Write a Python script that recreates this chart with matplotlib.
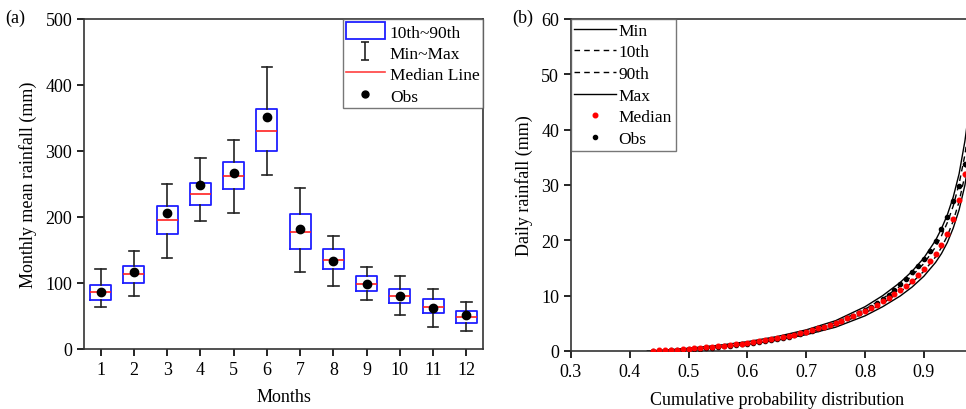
import matplotlib
matplotlib.use("Agg")
import matplotlib.pyplot as plt
from matplotlib.patches import Rectangle
from matplotlib.lines import Line2D
from matplotlib.path import Path

plt.rcParams['font.family'] = ['Liberation Serif', 'DejaVu Serif']
plt.rcParams['font.size'] = 13

# ---------------- Panel (a) data ----------------
months = [1, 2, 3, 4, 5, 6, 7, 8, 9, 10, 11, 12]
month_min = [64, 81, 138, 194, 206, 264, 117, 95, 75, 51, 34, 28]
month_p10 = [75, 100, 174, 218, 242, 300, 152, 121, 88, 69, 54, 40]
month_med = [86, 113, 195, 235, 262, 330, 177, 135, 99, 80, 64, 48]
month_p90 = [97, 126, 217, 252, 283, 363, 204, 152, 110, 91, 76, 57]
month_max = [121, 148, 250, 289, 316, 427, 244, 171, 124, 110, 91, 71]
month_obs = [87, 117, 206, 248, 266, 351, 182, 133, 98, 80, 62, 51]

# ---------------- Panel (b) data ----------------
cdf_pts = [0.44, 0.45, 0.46, 0.47, 0.48, 0.49, 0.50, 0.51, 0.52, 0.53,
           0.54, 0.55, 0.56, 0.57, 0.58, 0.59, 0.60, 0.61, 0.62, 0.63,
           0.64, 0.65, 0.66, 0.67, 0.68, 0.69, 0.70, 0.71, 0.72, 0.73,
           0.74, 0.75, 0.76, 0.77, 0.78, 0.79, 0.80, 0.81, 0.82, 0.83,
           0.84, 0.85, 0.86, 0.87, 0.88, 0.89, 0.90, 0.91, 0.92, 0.93,
           0.94, 0.95, 0.96, 0.97]
median_rain = [0.05, 0.10, 0.15, 0.20, 0.26, 0.33, 0.40, 0.48, 0.57, 0.66,
               0.76, 0.86, 0.97, 1.09, 1.21, 1.34, 1.48, 1.63, 1.79, 1.96,
               2.14, 2.33, 2.53, 2.75, 2.98, 3.23, 3.49, 3.77, 4.07, 4.39,
               4.73, 5.09, 5.47, 5.88, 6.32, 6.79, 7.30, 7.82, 8.38, 8.98,
               9.62, 10.30, 11.02, 11.80, 12.68, 13.70, 14.90, 16.20, 17.60, 19.20,
               21.20, 23.80, 27.20, 32.00]
obs_rain = [0.00, 0.03, 0.07, 0.11, 0.16, 0.22, 0.28, 0.35, 0.43, 0.52,
            0.61, 0.71, 0.82, 0.94, 1.06, 1.19, 1.33, 1.48, 1.64, 1.81,
            1.99, 2.18, 2.39, 2.61, 2.85, 3.10, 3.37, 3.66, 3.97, 4.30,
            4.66, 5.04, 5.45, 5.89, 6.36, 6.86, 7.40, 8.00, 8.65, 9.40,
            10.20, 11.10, 12.05, 13.10, 14.20, 15.35, 16.60, 18.10, 19.90, 22.00,
            24.30, 27.10, 29.90, 33.80]

line_cdf = [0.43, 0.46, 0.50, 0.55, 0.60, 0.65, 0.70, 0.75, 0.80, 0.83,
            0.86, 0.88, 0.90, 0.92, 0.93, 0.94, 0.95, 0.96, 0.97, 0.98]
min_rain = [0.0, 0.06, 0.28, 0.68, 1.20, 1.93, 2.95, 4.30, 6.35, 8.00,
            9.95, 11.55, 13.5, 16.0, 17.6, 19.6, 22.2, 25.5, 30.0, 37.0]
p10_rain = [0.0, 0.09, 0.34, 0.78, 1.34, 2.12, 3.20, 4.65, 6.85, 8.60,
            10.70, 12.40, 14.4, 17.0, 18.7, 20.8, 23.5, 27.0, 31.8, 39.0]
p90_rain = [0.0, 0.13, 0.44, 0.93, 1.55, 2.42, 3.58, 5.15, 7.55, 9.45,
            11.75, 13.60, 15.8, 18.8, 20.8, 23.2, 26.2, 30.2, 35.5, 43.0]
max_rain = [0.0, 0.16, 0.50, 1.02, 1.68, 2.60, 3.82, 5.48, 8.00, 10.00,
            12.40, 14.40, 16.8, 20.0, 22.1, 24.6, 27.8, 32.0, 38.0, 46.0]

fig = plt.figure(figsize=(9.66, 4.10), dpi=100)

# ---------------- Panel (a) ----------------
ax1 = fig.add_axes([84/966, 1-350/410, (483-84)/966, 330/410])
stats = []
for i in range(len(months)):
    stats.append(dict(whislo=month_min[i], q1=month_p10[i], med=month_med[i],
                      q3=month_p90[i], whishi=month_max[i], fliers=[]))
ax1.bxp(stats, positions=months, widths=0.63, capwidths=0.32, showfliers=False,
        boxprops=dict(color='#1f1fff', linewidth=1.3),
        medianprops=dict(color='#ff2020', linewidth=1.2),
        whiskerprops=dict(color='#222222', linewidth=1.2),
        capprops=dict(color='#222222', linewidth=1.2),
        manage_ticks=False)
ax1.plot(months, month_obs, 'o', color='black', markersize=6, zorder=5)
ax1.set_xlim(0.5, 12.5)
ax1.set_ylim(0, 500)
ax1.set_xticks(months)
ax1.set_yticks([0, 100, 200, 300, 400, 500])
ax1.set_xlabel('Months', labelpad=7)
ax1.set_ylabel('Monthly mean rainfall (mm)', labelpad=6)
ax1.tick_params(direction='out', length=5, width=1.2, top=False, right=False, labelsize=13)
for s in ax1.spines.values():
    s.set_linewidth(1.2)
    s.set_color('#333333')

ibeam = Path([(-0.45, -1), (0.45, -1), (0, -1), (0, 1), (-0.45, 1), (0.45, 1)],
             [Path.MOVETO, Path.LINETO, Path.MOVETO, Path.LINETO, Path.MOVETO, Path.LINETO])
h_box = Rectangle((0, 0), 1, 1, facecolor='none', edgecolor='#1f1fff', linewidth=1.3)
h_err = Line2D([], [], marker=ibeam, color='#222222', linestyle='none', markersize=13,
               markeredgewidth=1.2, fillstyle='none')
h_med = Line2D([], [], color='#ff4040', linewidth=1.2)
h_obs = Line2D([], [], marker='o', color='black', linestyle='none', markersize=5)
leg1 = ax1.legend([h_box, h_err, h_med, h_obs], ['10th~90th', 'Min~Max', 'Median Line', 'Obs'],
                  loc='upper right', bbox_to_anchor=(1.0, 1.0), fancybox=False, edgecolor='#555555',
                  borderaxespad=0, handlelength=2.2, handleheight=1.1, labelspacing=0.18,
                  borderpad=0.2, handletextpad=0.3, fontsize=12.5)
leg1.get_frame().set_linewidth(1.0)

fig.text(5/966, 1-18/410, '(a)', fontsize=13, va='center', ha='left')

# ---------------- Panel (b) ----------------
ax2 = fig.add_axes([571/966, 1-352/410, 411.6/966, 332/410])
ax2.plot(line_cdf, min_rain, '-', color='black', linewidth=1.0, label='Min')
ax2.plot(line_cdf, p10_rain, '--', color='black', linewidth=1.0, dashes=(4, 3), label='10th')
ax2.plot(line_cdf, p90_rain, '--', color='black', linewidth=1.0, dashes=(4, 3), label='90th')
ax2.plot(line_cdf, max_rain, '-', color='black', linewidth=1.0, label='Max')
ax2.plot(cdf_pts, median_rain, 'o', color='red', markersize=3.3, linestyle='none', label='Median', zorder=5)
ax2.plot(cdf_pts, obs_rain, 'o', color='black', markersize=3.0, linestyle='none', label='Obs', zorder=4)
ax2.set_xlim(0.3, 1.0)
ax2.set_ylim(0, 60)
ax2.set_xticks([0.3, 0.4, 0.5, 0.6, 0.7, 0.8, 0.9])
ax2.set_yticks([0, 10, 20, 30, 40, 50, 60])
ax2.set_xlabel('Cumulative probability distribution', labelpad=8)
ax2.set_ylabel('Daily rainfall (mm)', labelpad=6)
ax2.tick_params(direction='out', length=5, width=1.2, top=False, right=False, labelsize=13)
for s in ax2.spines.values():
    s.set_linewidth(1.2)
    s.set_color('#333333')
ax2.spines['right'].set_visible(False)
leg2 = ax2.legend(loc='upper left', bbox_to_anchor=(0.0, 1.0), fancybox=False, edgecolor='#555555',
                  borderaxespad=0, handlelength=2.4, labelspacing=0.32, borderpad=0.2,
                  handletextpad=0.15, fontsize=12.5, markerscale=1.0)
leg2.get_frame().set_linewidth(1.0)

fig.text(512/966, 1-18/410, '(b)', fontsize=13, va='center', ha='left')

fig.savefig('out.png', dpi=100)
